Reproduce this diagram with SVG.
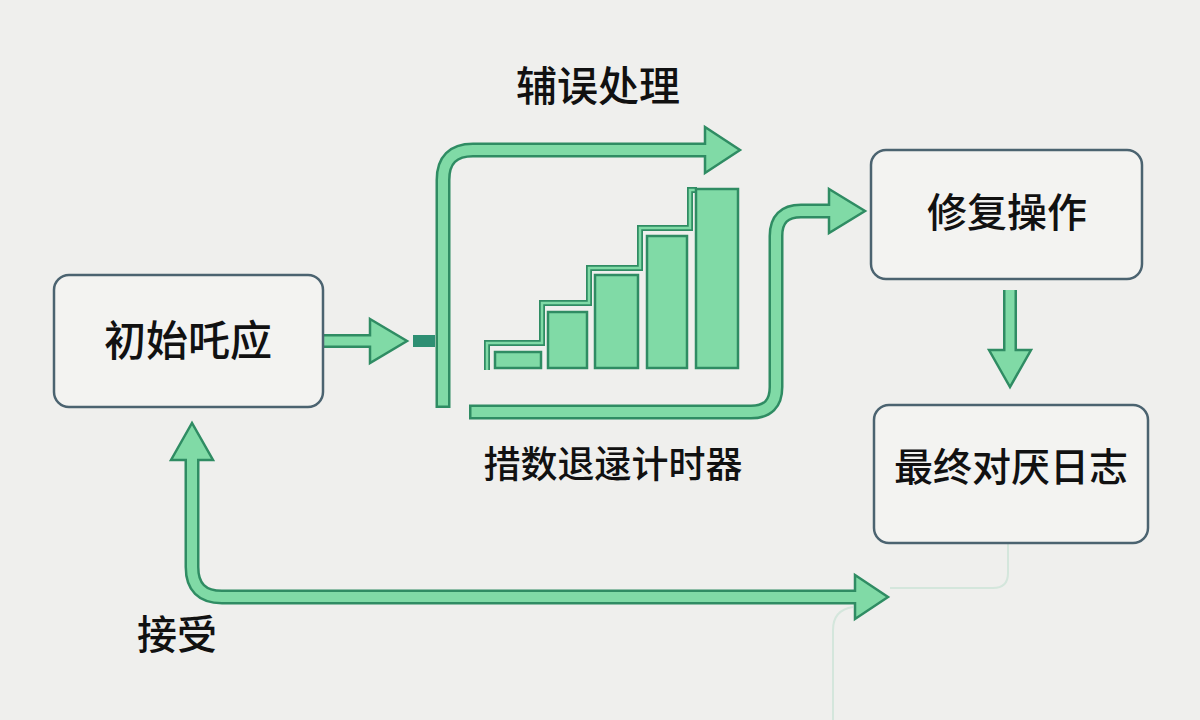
<svg xmlns="http://www.w3.org/2000/svg" width="1200" height="720" viewBox="0 0 1200 720">
<style>
.bg{fill:#efefed}
.node{fill:#f3f3f1;stroke:#4b6370;stroke-width:2.5}
.lbl{font-family:"Noto Sans CJK SC","Noto Sans CJK JP",sans-serif;font-weight:500;fill:#111;text-anchor:middle}
.out{fill:none;stroke:#2f8c63;stroke-width:15}
.inn{fill:none;stroke:#80daa6;stroke-width:10}
.head{fill:#80daa6;stroke:#2f8c63;stroke-width:2.5;stroke-linejoin:miter}
.bar{fill:#80daa6;stroke:#2f8c63;stroke-width:2.5}
.stairO{fill:none;stroke:#2f8c63;stroke-width:6}
.stairI{fill:none;stroke:#80daa6;stroke-width:2.5}
.faint{fill:none;stroke:#d4e6dc;stroke-width:2}
</style>
<rect class="bg" x="0" y="0" width="1200" height="720"/>

<g id="connectors">
  <!-- faint lines -->
  <path class="faint" d="M1008 543 L1008 573 Q1008 588 993 588 L890 588"/>
  <path class="faint" d="M853 607 Q833 610 833 630 L833 720"/>

  <!-- initial -> -->
  <path class="out" style="stroke-width:14" d="M322 341 L374 341"/>
  <polygon class="head" points="370,319 407,341 370,363"/>
  <path class="inn" style="stroke-width:9" d="M320 341 L374 341"/>
  <rect x="413" y="335" width="22" height="12" fill="#2e8f73"/>

  <!-- error handling bracket -->
  <path class="out" d="M443 408 L443 180 Q443 150 473 150 L708 150"/>
  <polygon class="head" points="705,127 740,150 705,173"/>
  <path class="inn" d="M443 405.5 L443 180 Q443 150 473 150 L709 150"/>

  <!-- timer -> repair -->
  <path class="out" d="M469 412 L751 412 Q776 412 776 387 L776 236 Q776 211 801 211 L832 211"/>
  <polygon class="head" points="829,189 865,211 829,233"/>
  <path class="inn" d="M471.5 412 L751 412 Q776 412 776 387 L776 236 Q776 211 801 211 L833 211"/>

  <!-- repair -> final -->
  <path class="out" style="stroke-width:14" d="M1010 290 L1010 353"/>
  <polygon class="head" points="989,350 1010,387 1031,350"/>
  <path class="inn" style="stroke-width:9" d="M1010 290 L1010 354"/>

  <!-- accept loop -->
  <path class="out" d="M192 457 L192 567 Q192 597 222 597 L858 597"/>
  <polygon class="head" points="171,460 192,423 213,460"/>
  <polygon class="head" points="855,575 888,597 855,619"/>
  <path class="inn" d="M192 456 L192 567 Q192 597 222 597 L859 597"/>
</g>

<g id="chart">
  <path class="stairO" d="M487 370 L487 343 L542 343 L542 303 L589 303 L589 268 L640 268 L640 228 L690 228 L690 190 L697 190"/>
  <path class="stairI" d="M487 370 L487 343 L542 343 L542 303 L589 303 L589 268 L640 268 L640 228 L690 228 L690 190 L697 190"/>
  <rect class="bar" x="495" y="352" width="46" height="16"/>
  <rect class="bar" x="548" y="312" width="39" height="56"/>
  <rect class="bar" x="595" y="275" width="43" height="93"/>
  <rect class="bar" x="647" y="236" width="40" height="132"/>
  <rect class="bar" x="696" y="189" width="42" height="179"/>
</g>

<g id="node-initial">
  <rect class="node" x="54" y="275" width="269" height="132" rx="15"/>
  <text class="lbl" x="188" y="356" font-size="42">初始吒应</text>
</g>
<g id="node-repair">
  <rect class="node" x="871" y="150" width="271" height="129" rx="15"/>
  <text class="lbl" x="1007" y="227" font-size="40">修复操作</text>
</g>
<g id="node-final">
  <rect class="node" x="874" y="405" width="274" height="138" rx="15"/>
  <text class="lbl" x="1011" y="481" font-size="39">最终对厌日志</text>
</g>

<g id="labels">
  <text class="lbl" x="598" y="101" font-size="41">辅误处理</text>
  <text class="lbl" x="613" y="478" font-size="37">措数退逯计时器</text>
  <text class="lbl" x="177" y="649" font-size="40">接受</text>
</g>
</svg>
